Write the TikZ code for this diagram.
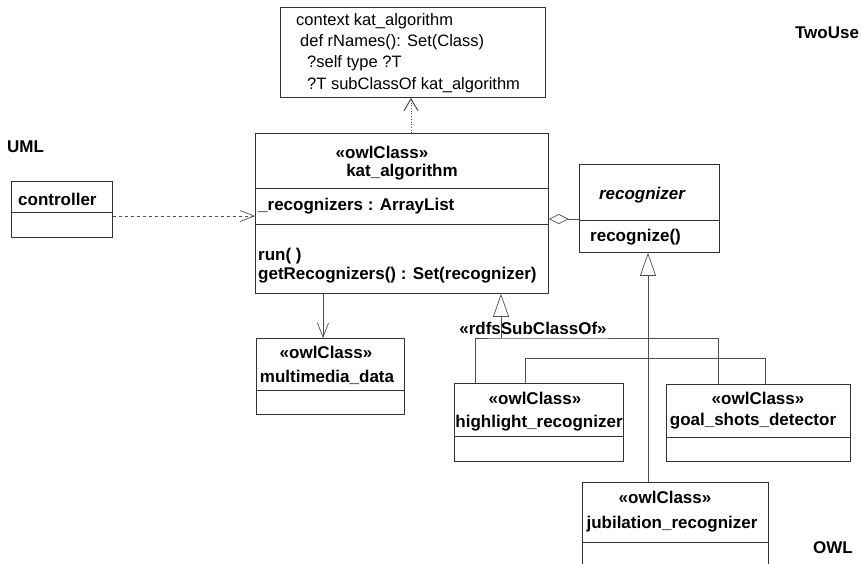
\documentclass[tikz,border=0pt]{standalone}
\usepackage{fontspec}
\setmainfont{Liberation Sans}
\usetikzlibrary{arrows.meta, positioning}
\definecolor{boxline}{HTML}{333333}
\definecolor{linkline}{HTML}{505050}
\newcommand{\owlstereo}{«owlClass»}

\begin{document}
\begin{tikzpicture}[
        x=1pt, y=-1pt,
        font=\fontsize{17}{19}\selectfont\bfseries,
        classbox/.style={
            draw=boxline,
            line width=0.8pt,
            anchor=north west,
            inner sep=0pt
        },
        rule/.style={draw=boxline, line width=0.8pt},
        label/.style={inner sep=0pt},
        member/.style={inner sep=0pt, anchor=west},
        ocltext/.style={inner sep=0pt, anchor=west, font=\fontsize{16.5}{19}\selectfont},
        link/.style={draw=linkline, line width=0.7pt},
        dep/.style={link, dashed, -{Straight Barb[length=14pt, width=11pt]}},
        trace/.style={link, dotted, line width=1pt, -{Straight Barb[length=12pt, width=14pt]}},
        nav/.style={link, -{Straight Barb[length=14pt, width=11pt]}},
        agg/.style={link, {Diamond[open, length=20pt, width=10pt]}-},
        gen/.style={link, -{Triangle[open, length=23pt, width=16pt]}}
    ]
        \useasboundingbox (0,0) rectangle (861,563);
        \fill[white] (0,0) rectangle (861,563);
        \clip (0,0) rectangle (861,563);

        % area labels
        \node[label, anchor=west] (umllabel) at (7,147) {UML};
        \node[label] (twouselabel) at (827,33) {TwoUse};
        \node[label] (owllabel) at (833,548) {OWL};

        % OCL query
        \node[classbox, minimum width=265, minimum height=90] (ocl) at (280,7) {};
        \node[ocltext] (ocl1) at (296,21) {context kat\_algorithm};
        \node[ocltext] (ocl2) at (300,42) {def rNames(): Set(Class)};
        \node[ocltext] (ocl3) at (307,63) {?self type ?T};
        \node[ocltext] (ocl4) at (307,85) {?T subClassOf kat\_algorithm};

        % classes
        \node[classbox, minimum width=101, minimum height=56] (controller) at (11,181) {};
        \draw[rule] (controller.west |- 0,212) -- (controller.east |- 0,212);
        \node[member] (controllername) at (18,199) {controller};

        \node[classbox, minimum width=293, minimum height=160] (kat) at (255,133) {};
        \draw[rule] (kat.west |- 0,188) -- (kat.east |- 0,188);
        \draw[rule] (kat.west |- 0,224) -- (kat.east |- 0,224);
        \node[label] (katstereo) at (382,152) {\owlstereo};
        \node[label] (katname) at (402,172) {kat\_algorithm};
        \node[member] (katattr) at (258,206) {\_recognizers : ArrayList};
        \node[member] (katrun) at (258,256) {run( )};
        \node[member] (katget) at (258,275) {getRecognizers() : Set(recognizer)};

        \node[classbox, minimum width=140, minimum height=88] (recognizer) at (579,164) {};
        \draw[rule] (recognizer.west |- 0,220) -- (recognizer.east |- 0,220);
        \node[label] (recname) at (642,195) {\itshape recognizer};
        \node[member] (recop) at (590,237) {recognize()};

        \node[classbox, minimum width=148, minimum height=76] (multimedia) at (256,338) {};
        \draw[rule] (multimedia.west |- 0,390) -- (multimedia.east |- 0,390);
        \node[label] (mmstereo) at (326,352) {\owlstereo};
        \node[label] (mmname) at (327,377) {multimedia\_data};

        \node[classbox, minimum width=169, minimum height=78] (highlight) at (454,383) {};
        \draw[rule] (highlight.west |- 0,436) -- (highlight.east |- 0,436);
        \node[label] (hlstereo) at (535,398) {\owlstereo};
        \node[label] (hlname) at (539,423) {highlight\_recognizer};

        \node[classbox, minimum width=184, minimum height=77] (goal) at (666,384) {};
        \draw[rule] (goal.west |- 0,437) -- (goal.east |- 0,437);
        \node[label] (goalstereo) at (758,398) {\owlstereo};
        \node[label] (goalname) at (753,421) {goal\_shots\_detector};

        \node[classbox, minimum width=186, minimum height=110] (jubilation) at (582,482) {};
        \draw[rule] (jubilation.west |- 0,542) -- (jubilation.east |- 0,542);
        \node[label] (jubstereo) at (665,497) {\owlstereo};
        \node[label] (jubname) at (672,524) {jubilation\_recognizer};

        % connectors
        \draw[dep] (controller.east |- 0,216) -- (kat.west |- 0,216);
        \draw[trace] (kat.north -| 411,0) -- (ocl.south -| 411,0);
        \draw[nav] (kat.south -| 323,0) -- (multimedia.north -| 323,0);
        \draw[agg] (kat.east |- 0,219) -- (recognizer.west |- 0,219);

        \coordinate (subjoin) at (501,338);
        \draw[link] (highlight.north -| 475,0) |- (subjoin) -| (goal.north -| 718,0);
        \draw[gen] (subjoin) -- (kat.south -| subjoin);
        \node[label] (subclasslabel) at (533,328) {«rdfsSubClassOf»};
        \draw[link] (highlight.north -| 525,0) |- (765,358) -- (goal.north -| 765,0);

        \draw[gen] (jubilation.north -| 648,0) -- (recognizer.south -| 648,0);
    \end{tikzpicture}
\end{document}
